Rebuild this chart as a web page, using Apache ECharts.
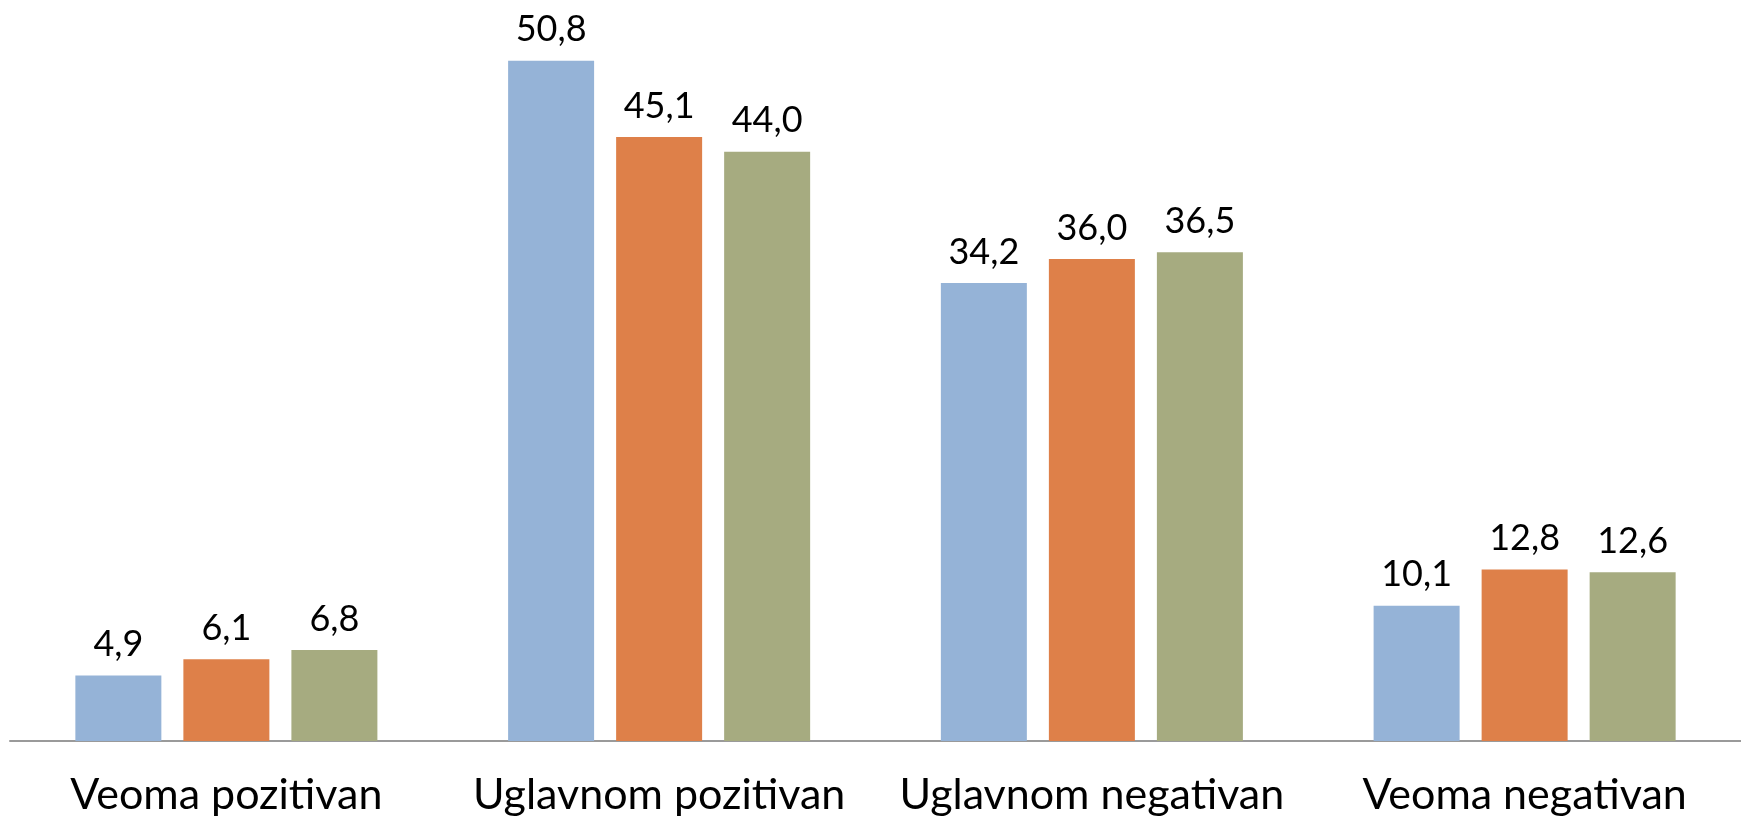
<!DOCTYPE html>
<html>
<head>
<meta charset="utf-8">
<script src="https://cdn.jsdelivr.net/npm/echarts@6/dist/echarts.min.js"></script>
<style>
  html, body { margin: 0; padding: 0; background: #fff; }
  #chart { width: 1741px; height: 818px; }
</style>
</head>
<body>
<div id="chart"></div>
<script>
// kategorije i vrijednosti
var categories = ['Veoma pozitivan', 'Uglavnom pozitivan', 'Uglavnom negativan', 'Veoma negativan'];
var serija1 = [4.9, 50.8, 34.2, 10.1];
var serija2 = [6.1, 45.1, 36.0, 12.8];
var serija3 = [6.8, 44.0, 36.5, 12.6];

var boje = ['#95B3D7', '#DE8049', '#A6AB80'];
var font = 'Lato, "DejaVu Sans", sans-serif';

function bar(name, data, color) {
  return {
    name: name,
    type: 'bar',
    data: data,
    barWidth: 86,
    barGap: '25.6%',
    itemStyle: { color: color },
    label: {
      show: true,
      position: 'top',
      distance: 13,
      color: '#000',
      fontFamily: font,
      fontSize: 36,
      formatter: function (p) { return p.value.toFixed(1).replace('.', ','); }
    }
  };
}

var chart = echarts.init(document.getElementById('chart'));
chart.setOption({
  animation: false,
  grid: { left: 10, right: 0, top: 4.5, bottom: 77, containLabel: false },
  xAxis: {
    type: 'category',
    data: categories,
    axisLine: { lineStyle: { color: '#9a9a9a', width: 2 } },
    axisTick: { show: false },
    axisLabel: {
      interval: 0,
      color: '#000',
      fontFamily: font,
      fontSize: 43,
      margin: 33
    }
  },
  yAxis: {
    type: 'value',
    min: 0,
    max: 55,
    show: false
  },
  series: [
    bar('Serija 1', serija1, boje[0]),
    bar('Serija 2', serija2, boje[1]),
    bar('Serija 3', serija3, boje[2])
  ]
});
</script>
</body>
</html>
